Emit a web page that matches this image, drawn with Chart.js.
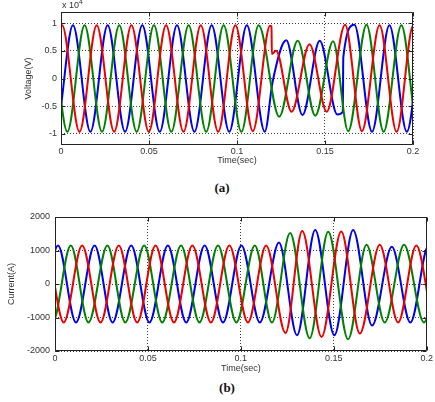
<!DOCTYPE html>
<html>
<head>
<meta charset="utf-8">
<script src="https://cdn.jsdelivr.net/npm/chart.js@4.4.1/dist/chart.umd.min.js"></script>
<style>
  body { margin: 0; background: #fff; width: 435px; height: 402px; position: relative; overflow: hidden; font-family: "Liberation Sans", Arial, sans-serif; }
  canvas { position: absolute; left: 0; }
  #volt { top: 0; }
  #curr { top: 200px; }
  .cap { position: absolute; width: 40px; text-align: center; font: bold 13px "Liberation Serif", serif; color: #111; }
  .exp { position: absolute; left: 62px; top: -2px; font-size: 9px; color: #333; }
  .exp sup { font-size: 7px; }
</style>
</head>
<body>
<canvas id="volt" width="435" height="170"></canvas>
<canvas id="curr" width="435" height="180"></canvas>
<div class="exp">x 10<sup>4</sup></div>
<div class="cap" style="left:202px;top:180px">(a)</div>
<div class="cap" style="left:207px;top:380px">(b)</div>

<script>
// axis ticks
const timeTicks = [0, 0.05, 0.1, 0.15, 0.2];
const voltTicks = [-1, -0.5, 0, 0.5, 1];
const currTicks = [-2000, -1000, 0, 1000, 2000];

// (a) voltage in x10^4 V: peaks, troughs and jump points
const vRedT = [-0.0190, -0.0092, 0.0006, 0.0105, 0.0203, 0.0302, 0.0400, 0.0499, 0.0597, 0.0696, 0.0794, 0.0893, 0.0991, 0.1090, 0.1188, 0.1196, 0.1198, 0.1222, 0.1310, 0.1412, 0.1510, 0.1614, 0.1710, 0.1810, 0.1907, 0.2002, 0.2100];
const vRedY = [0.96, -0.96, 0.96, -0.96, 0.96, -0.96, 0.96, -0.96, 0.96, -0.96, 0.96, -0.96, 0.96, -0.95, 0.95, 0.94, 0.44, 0.50, -0.60, 0.62, -0.60, 0.97, -0.95, 0.96, -0.96, 0.96, -0.96];
const vBlueT = [-0.0130, -0.0031, 0.0068, 0.0167, 0.0265, 0.0364, 0.0462, 0.0561, 0.0659, 0.0758, 0.0856, 0.0956, 0.1056, 0.1158, 0.1203, 0.1280, 0.1372, 0.1470, 0.1570, 0.1601, 0.1604, 0.1667, 0.1767, 0.1866, 0.1965, 0.2064, 0.2163];
const vBlueY = [0.96, -0.96, 0.96, -0.96, 0.96, -0.96, 0.96, -0.96, 0.96, -0.96, 0.96, -0.96, 0.96, -0.96, -0.05, 0.69, -0.66, 0.68, -0.65, -0.60, 0.38, 0.97, -0.96, 0.96, -0.96, 0.96, -0.96];
const vGreenT = [-0.0162, -0.0063, 0.0036, 0.0134, 0.0233, 0.0331, 0.0430, 0.0528, 0.0627, 0.0725, 0.0825, 0.0924, 0.1025, 0.1123, 0.1240, 0.1345, 0.1445, 0.1546, 0.1632, 0.1736, 0.1833, 0.1934, 0.2031, 0.2130];
const vGreenY = [-0.96, 0.96, -0.96, 0.96, -0.96, 0.96, -0.96, 0.96, -0.96, 0.96, -0.96, 0.96, -0.96, 0.96, -0.69, 0.68, -0.67, 0.67, -0.95, 0.97, -0.96, 0.96, -0.96, 0.96];

// (b) current in A
const cBlueT = [-0.0180, -0.0082, 0.0016, 0.0113, 0.0213, 0.0310, 0.0410, 0.0508, 0.0607, 0.0706, 0.0805, 0.0904, 0.1003, 0.1102, 0.1205, 0.1302, 0.1400, 0.1503, 0.1604, 0.1706, 0.1812, 0.1912, 0.2010, 0.2108];
const cBlueY = [1150, -1150, 1150, -1150, 1150, -1150, 1150, -1150, 1150, -1150, 1150, -1150, 1150, -1150, 1240, -1530, 1610, -1530, 1610, -1240, 1110, -1150, 1150, -1150];
const cGreenT = [-0.0110, -0.0013, 0.0085, 0.0180, 0.0282, 0.0378, 0.0480, 0.0577, 0.0678, 0.0777, 0.0877, 0.0976, 0.1075, 0.1167, 0.1265, 0.1370, 0.1470, 0.1577, 0.1676, 0.1774, 0.1878, 0.1985, 0.2080, 0.2178];
const cGreenY = [1150, -1150, 1150, -1150, 1150, -1150, 1150, -1150, 1150, -1150, 1150, -1150, 1150, -1150, 1520, -1620, 1560, -1650, 1170, -1150, 1170, -1150, 1150, -1150];
const cRedT = [-0.0150, -0.0052, 0.0047, 0.0146, 0.0245, 0.0343, 0.0442, 0.0541, 0.0640, 0.0739, 0.0839, 0.0938, 0.1038, 0.1136, 0.1240, 0.1330, 0.1434, 0.1540, 0.1640, 0.1747, 0.1846, 0.1944, 0.2045, 0.2143];
const cRedY = [-1150, 1150, -1150, 1150, -1150, 1150, -1150, 1150, -1150, 1150, -1150, 1150, -1150, 1150, -1460, 1580, -1580, 1570, -1480, 1170, -1150, 1150, -1150, 1150];

const RED = 'rgb(235,0,0)';
const BLUE = 'rgb(0,0,235)';
const GREEN = 'rgb(0,128,0)';

Chart.defaults.font.family = '"Liberation Sans", Arial, sans-serif';
Chart.defaults.font.size = 9;
Chart.defaults.color = '#333';

function phase(color, ts, ys) {
    return {
        data: ts.map((t, i) => ({ x: t, y: ys[i] })),
        borderColor: color,
        borderWidth: 2,
        pointRadius: 0,
        cubicInterpolationMode: 'monotone',
        fill: false
    };
}

// matlab style frame: closed box with small inward ticks
const boxPlugin = {
    id: 'box',
    afterDatasetsDraw(chart) {
        const { ctx, chartArea: a, scales } = chart;
        const l = Math.round(a.left) + 0.5, r = Math.round(a.right) - 0.5;
        const t = Math.round(a.top) + 0.5, b = Math.round(a.bottom) - 0.5;
        ctx.save();
        ctx.strokeStyle = '#222';
        ctx.lineWidth = 1;
        ctx.beginPath();
        ctx.rect(l, t, r - l, b - t);
        scales.x.ticks.forEach(tk => {
            const px = Math.round(scales.x.getPixelForValue(tk.value)) + 0.5;
            ctx.moveTo(px, b); ctx.lineTo(px, b - 4);
            ctx.moveTo(px, t); ctx.lineTo(px, t + 4);
        });
        scales.y.ticks.forEach(tk => {
            const py = Math.round(scales.y.getPixelForValue(tk.value)) + 0.5;
            ctx.moveTo(l, py); ctx.lineTo(l + 4, py);
            ctx.moveTo(r, py); ctx.lineTo(r - 4, py);
        });
        ctx.stroke();
        ctx.restore();
    }
};

function makeChart(id, datasets, o) {
    return new Chart(document.getElementById(id), {
        type: 'line',
        data: { datasets: datasets },
        plugins: [boxPlugin],
        options: {
            responsive: false,
            animation: false,
            layout: { padding: { left: 0, right: o.padRight, top: o.padTop, bottom: 0 } },
            plugins: { legend: { display: false }, tooltip: { enabled: false } },
            scales: {
                x: {
                    type: 'linear', min: 0, max: 0.2,
                    afterBuildTicks: s => { s.ticks = timeTicks.map(v => ({ value: v })); },
                    afterFit: s => { s.height = o.xHeight; },
                    ticks: { padding: o.xLabelPad, maxRotation: 0, autoSkip: false, callback: v => String(v) },
                    grid: { color: 'rgba(0,0,0,0.75)', drawTicks: false },
                    border: { display: false, dash: [1, 2] },
                    title: { display: true, text: 'Time(sec)', padding: { top: 0, bottom: o.xTitlePad } }
                },
                y: {
                    type: 'linear', min: o.yMin, max: o.yMax,
                    afterBuildTicks: s => { s.ticks = o.yTicks.map(v => ({ value: v })); },
                    afterFit: s => { s.width = o.yWidth; },
                    ticks: { padding: o.yLabelPad, autoSkip: false, callback: v => String(v) },
                    grid: { color: 'rgba(0,0,0,0.75)', drawTicks: false },
                    border: { display: false, dash: [1, 2] },
                    title: { display: true, text: o.yTitle, padding: { top: o.yTitlePad, bottom: 0 } }
                }
            }
        }
    });
}

makeChart('volt', [
    phase(RED, vRedT, vRedY),
    phase(GREEN, vGreenT, vGreenY),
    phase(BLUE, vBlueT, vBlueY)
], { padRight: 22, padTop: 12, xHeight: 25, xLabelPad: 1, xTitlePad: 4,
     yMin: -1.2, yMax: 1.2, yTicks: voltTicks, yWidth: 61, yLabelPad: 4, yTitlePad: 23, yTitle: 'Voltage(V)' });

makeChart('curr', [
    phase(RED, cRedT, cRedY),
    phase(GREEN, cGreenT, cGreenY),
    phase(BLUE, cBlueT, cBlueY)
], { padRight: 8, padTop: 17, xHeight: 29, xLabelPad: 2, xTitlePad: 6,
     yMin: -2000, yMax: 2000, yTicks: currTicks, yWidth: 55, yLabelPad: 5, yTitlePad: 6, yTitle: 'Current(A)' });
</script>
</body>
</html>
